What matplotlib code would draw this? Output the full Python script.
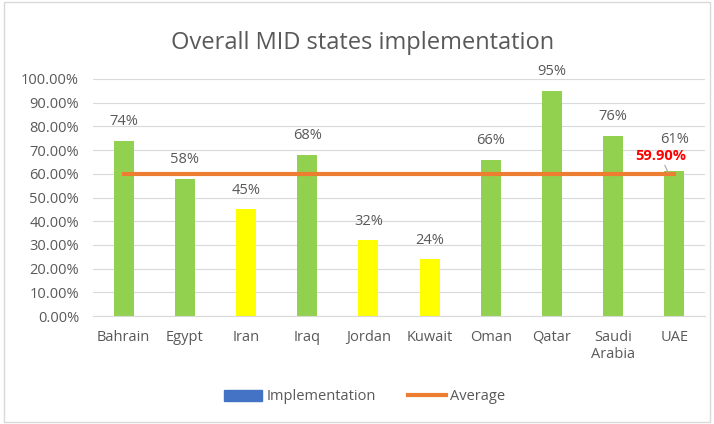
# Overall MID states implementation - bar chart with average line
import numpy as np
import matplotlib.pyplot as plt
from matplotlib.patches import Patch, Rectangle
from matplotlib.lines import Line2D
from matplotlib.ticker import PercentFormatter

states = ['Bahrain', 'Egypt', 'Iran', 'Iraq', 'Jordan', 'Kuwait', 'Oman', 'Qatar', 'Saudi\nArabia', 'UAE']
implementation = [0.74, 0.58, 0.45, 0.68, 0.32, 0.24, 0.66, 0.95, 0.76, 0.61]
average = [0.599] * len(states)
bar_colors = ['#92D050', '#92D050', '#FFFF00', '#92D050', '#FFFF00', '#FFFF00',
              '#92D050', '#92D050', '#92D050', '#92D050']

plt.rcParams['font.family'] = ['Open Sans', 'DejaVu Sans']
txt = '#595959'

fig = plt.figure(figsize=(7.14, 4.24), dpi=100)
ax = fig.add_axes([93 / 714, 1 - 316 / 424, 612 / 714, 237 / 424])

x_pos = np.arange(len(states))
ax.bar(x_pos, implementation, width=0.33, color=bar_colors, zorder=2)
ax.plot(x_pos, average, color='#ED7D31', lw=3, zorder=3)

for i, (x, v) in enumerate(zip(x_pos, implementation)):
    off = 0.135 if i == len(states) - 1 else 0.08
    ax.text(x, v + off, f'{v:.0%}', ha='center', va='center', fontsize=10.5, color=txt)

# average label with leader line
ax.annotate(f'{average[-1]:.2%}', xy=(x_pos[-1] - 0.1, average[-1] + 0.005),
            xytext=(x_pos[-1] - 0.23, average[-1] + 0.078), ha='center', va='center',
            fontsize=10.5, fontweight='bold', color='#FF0000',
            arrowprops=dict(arrowstyle='-', color='#A6A6A6', lw=0.8, shrinkA=6, shrinkB=0))

ax.set_xlim(-0.5, len(states) - 0.5)
ax.set_ylim(0, 1.0)
ax.set_yticks(np.arange(0, 1.01, 0.1))
ax.yaxis.set_major_formatter(PercentFormatter(1.0, decimals=2))
ax.set_xticks(x_pos)
ax.set_xticklabels(states)
ax.tick_params(axis='both', length=0, labelsize=10.5, colors=txt)
ax.tick_params(axis='x', pad=10)
ax.tick_params(axis='y', pad=10)
ax.grid(axis='y', color='#D9D9D9', lw=0.8, zorder=0)
ax.set_axisbelow(True)
for s in ['top', 'right', 'left']:
    ax.spines[s].set_visible(False)
ax.spines['bottom'].set_color('#D9D9D9')

fig.text(363 / 714, 1 - 43 / 424, 'Overall MID states implementation', ha='center', va='center',
         fontsize=17, color=txt)

handles = [Patch(color='#4472C4'), Line2D([], [], color='#ED7D31', lw=3)]
fig.legend(handles, ['Implementation', 'Average'], loc='center', bbox_to_anchor=(365 / 714, 1 - 397 / 424),
           ncol=2, frameon=False, fontsize=10.5, labelcolor=txt, handlelength=2.6,
           handletextpad=0.3, columnspacing=2.2)

fig.patches.append(Rectangle((0.005, 0.005), 0.99, 0.99, transform=fig.transFigure,
                             fill=False, edgecolor='#D9D9D9', lw=1))

plt.savefig('out.png')
